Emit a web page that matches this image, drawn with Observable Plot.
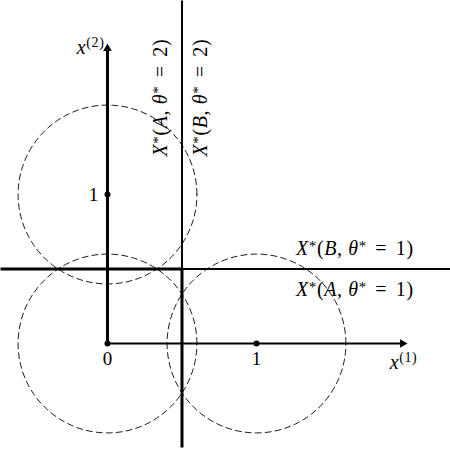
<!DOCTYPE html>
<html>
<head>
<meta charset="utf-8">
<script src="https://cdn.jsdelivr.net/npm/d3@7"></script>
<script src="https://cdn.jsdelivr.net/npm/@observablehq/plot@0.6"></script>
<style>
  html, body { margin: 0; padding: 0; background: #fff; }
  #chart svg { display: block; }
</style>
</head>
<body>
<div id="chart"></div>
<script>
// ---- data ----
const centers = [{x: 0, y: 0}, {x: 1, y: 0}, {x: 0, y: 1}];
const radius = 0.6;
const threshold = 0.5;
const axisEnd = 2;
const xDomain = [-0.718, 2.302];
const yDomain = [-0.718, 2.302];
const points = [{x: 0, y: 0}, {x: 1, y: 0}, {x: 0, y: 1}];
const xTicks = [{x: 0, y: 0, label: "0"}, {x: 1, y: 0, label: "1"}];
const yTicks = [{x: 0, y: 1, label: "1"}];
const vLabels = [
  {x: 0.356, y: 1.65, label: "X*(A, θ* = 2)"},
  {x: 0.624, y: 1.65, label: "X*(B, θ* = 2)"}
];
const hLabels = [
  {x: 1.66, y: 0.638, label: "X*(B, θ* = 1)"},
  {x: 1.66, y: 0.362, label: "X*(A, θ* = 1)"}
];
const axisLabels = [
  {x: 0, y: axisEnd, label: "x⁽²⁾", anchor: "end"},
  {x: axisEnd, y: 0, label: "x⁽¹⁾", anchor: "middle"}
];

// circle outlines built from centers + radius
const circlePts = centers.flatMap((c, i) =>
  d3.range(0, 361, 2).map(a => ({
    id: i,
    x: c.x + radius * Math.cos(a * Math.PI / 180),
    y: c.y + radius * Math.sin(a * Math.PI / 180)
  }))
);

const thick = [
  {x1: 0, y1: 0, x2: 0, y2: axisEnd - 0.03},
  {x1: xDomain[0], y1: threshold, x2: threshold, y2: threshold},
  {x1: threshold, y1: yDomain[0] + 0.02, x2: threshold, y2: threshold}
];
const thin = [
  {x1: 0, y1: 0, x2: axisEnd - 0.03, y2: 0},
  {x1: threshold, y1: threshold, x2: xDomain[1], y2: threshold},
  {x1: threshold, y1: threshold, x2: threshold, y2: yDomain[1]}
];

const font = "'Liberation Serif', 'Times New Roman', serif";
const fs = 20;

const plot = Plot.plot({
  width: 450, height: 450,
  margin: 0,
  x: {domain: xDomain, axis: null},
  y: {domain: yDomain, axis: null},
  style: {fontFamily: font, fontSize: fs + "px", background: "#fff"},
  marks: [
    Plot.line(circlePts, {x: "x", y: "y", z: "id", stroke: "#000", strokeWidth: 0.9, strokeDasharray: "6,4"}),
    Plot.link(thin, {x1: "x1", y1: "y1", x2: "x2", y2: "y2", stroke: "#000", strokeWidth: 2}),
    Plot.link(thick, {x1: "x1", y1: "y1", x2: "x2", y2: "y2", stroke: "#000", strokeWidth: 3}),
    Plot.dot([{x: 0, y: axisEnd - 0.02}], {x: "x", y: "y", symbol: "triangle", r: 3.2, fill: "#000", stroke: "none"}),
    Plot.dot([{x: axisEnd - 0.02, y: 0}], {x: "x", y: "y", symbol: "triangle", r: 3.2, fill: "#000", stroke: "none", rotate: 90}),
    Plot.dot(points, {x: "x", y: "y", r: 3, fill: "#000"}),
    Plot.text(xTicks, {x: "x", y: "y", text: "label", dy: 15, fill: "#000", fontSize: 19}),
    Plot.text(yTicks, {x: "x", y: "y", text: "label", dx: -14, fill: "#000", fontSize: 19}),
    Plot.text(vLabels, {x: "x", y: "y", text: "label", rotate: -90, fill: "#000", fontSize: fs}),
    Plot.text(hLabels, {x: "x", y: "y", text: "label", fill: "#000", fontSize: fs}),
    Plot.text(axisLabels.filter(d => d.anchor === "end"), {x: "x", y: "y", text: "label", textAnchor: "end", dx: -3, dy: 2, fill: "#000", fontSize: fs}),
    Plot.text(axisLabels.filter(d => d.anchor === "middle"), {x: "x", y: "y", text: "label", dy: 19, dx: -2, fill: "#000", fontSize: fs})
  ]
});

// math-like styling: italic letters, raised small asterisks and superscripts, math spacing
const italic = new Set(["X", "A", "B", "θ", "x"]);
const sup = {"⁽": "(", "⁾": ")", "¹": "1", "²": "2"};
d3.select(plot).selectAll("text").each(function() {
  const el = this;
  const s = el.textContent;
  if (!/[A-Za-zθ]/.test(s)) return;
  el.textContent = "";
  el.setAttribute("letter-spacing", "0.6");
  let raised = false;
  const chars = [...s];
  chars.forEach((ch, i) => {
    const t = document.createElementNS("http://www.w3.org/2000/svg", "tspan");
    const isStar = ch === "*";
    const isSup = isStar || ch in sup;
    t.textContent = ch in sup ? sup[ch] : ch;
    let dy = 0, dx = 0;
    if (isSup) {
      if (!raised) { dy = isStar ? -4 : -7; raised = dy; }
      t.setAttribute("font-size", isStar ? "15" : "14");
    } else {
      if (raised) { dy = -raised; raised = false; }
      if (italic.has(ch)) t.setAttribute("font-style", "italic");
    }
    if (ch === " " && (chars[i + 1] === "=" || chars[i - 1] === "=")) dx = 3;
    if (dy) t.setAttribute("dy", String(dy));
    if (dx) t.setAttribute("dx", String(dx));
    el.appendChild(t);
  });
});

document.getElementById("chart").appendChild(plot);
</script>
</body>
</html>
